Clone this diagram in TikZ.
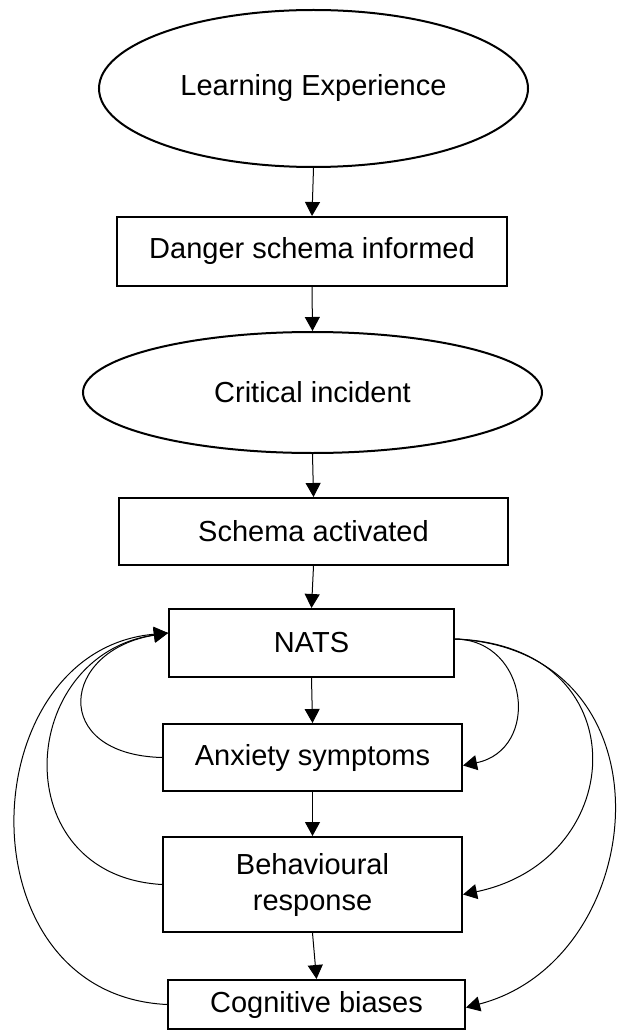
\documentclass[tikz,border=0pt]{standalone}
\usepackage{fontspec}
\setmainfont{Liberation Sans}
\usetikzlibrary{shapes.geometric,arrows.meta}
\tikzset{
  oval/.style={ellipse, draw, line width=1pt, inner sep=0pt},
  stepbox/.style={rectangle, draw, line width=1pt, inner sep=0pt, align=center},
  link/.style={line width=0.5pt, -{Triangle[length=7pt,width=7.5pt]}},
}
\begin{document}
\begin{tikzpicture}[x=0.5pt, y=-0.5pt, font=\fontsize{14.5pt}{18pt}\selectfont]
  \useasboundingbox (0,0) rectangle (617,1032);
  % main chain
  \node[oval, minimum width=214.5pt, minimum height=78.5pt] (learn) at (313.5,88.5) {Learning Experience};
  \node[stepbox, minimum width=195pt, minimum height=34.5pt] (danger) at (312,251.5) {Danger schema informed};
  \node[oval, minimum width=229.5pt, minimum height=60.5pt] (incident) at (312.5,392.5) {Critical incident};
  \node[stepbox, minimum width=194.5pt, minimum height=33.5pt] (activated) at (313.5,531.5) {Schema activated};
  \node[stepbox, minimum width=142.5pt, minimum height=34pt] (nats) at (311.5,643) {NATS};
  \node[stepbox, minimum width=149.5pt, minimum height=33.5pt] (anxiety) at (312.5,757.5) {Anxiety symptoms};
  \node[stepbox, minimum width=149.5pt, minimum height=47.5pt] (behaviour) at (312.5,884.5) {Behavioural\\response};
  \node[stepbox, minimum width=148.5pt, minimum height=24.5pt] (biases) at (316.5,1004.5) {Cognitive biases};
  \foreach \a/\b in {learn/danger, danger/incident, incident/activated, activated/nats, nats/anxiety, anxiety/behaviour, behaviour/biases}
    \draw[link] (\a.south) -- (\b.north);
  % feedback into NATS
  \draw[link] (anxiety.west) .. controls +(-113,-3) and +(-107,17) .. ([yshift=5pt]nats.west);
  \draw[link] (behaviour.west) .. controls +(-158,-9) and +(-152,22) .. ([yshift=5pt]nats.west);
  \draw[link] (biases.west) .. controls +(-208,-10) and +(-197,17) .. ([yshift=5pt]nats.west);
  % NATS out to the others
  \draw[link] ([yshift=2pt]nats.east) .. controls +(74,1) and +(78,-16) .. ([yshift=-4pt]anxiety.east);
  \draw[link] ([yshift=2pt]nats.east) .. controls +(184,6) and +(168,-35) .. ([yshift=-5pt]behaviour.east);
  \draw[link] ([yshift=2pt]nats.east) .. controls +(224,11) and +(185,-48) .. ([yshift=-1.5pt]biases.east);
\end{tikzpicture}
\end{document}
